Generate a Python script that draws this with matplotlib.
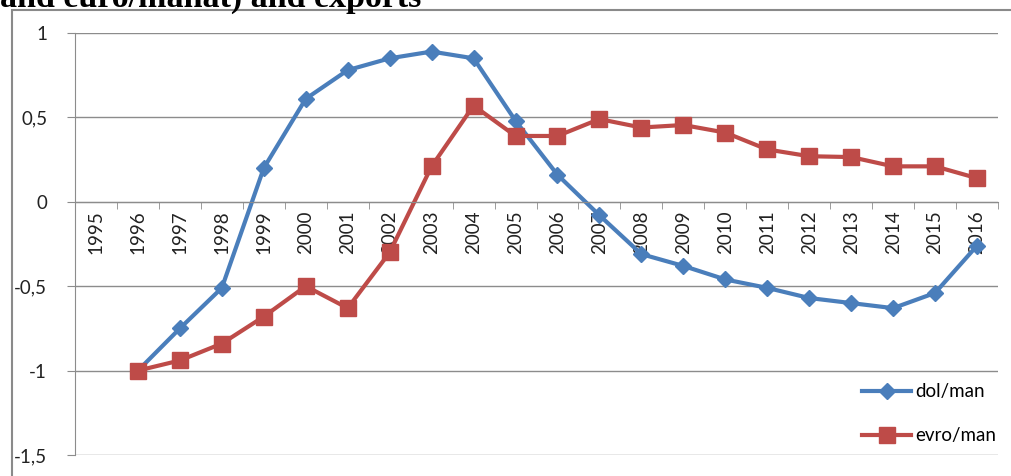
import numpy as np
import matplotlib.pyplot as plt
from matplotlib.ticker import FuncFormatter
from matplotlib.patches import Rectangle

years = [str(y) for y in range(1995, 2017)]
dol_man = [np.nan, -1.0, -0.75, -0.51, 0.20, 0.61, 0.78, 0.85, 0.89, 0.85, 0.48,
           0.16, -0.08, -0.31, -0.38, -0.46, -0.51, -0.57, -0.60, -0.63, -0.54, -0.26]
evro_man = [np.nan, -1.0, -0.94, -0.84, -0.68, -0.50, -0.63, -0.30, 0.21, 0.57, 0.39,
            0.39, 0.49, 0.44, 0.455, 0.41, 0.31, 0.27, 0.265, 0.21, 0.21, 0.14]
yticks = [-1.5, -1, -0.5, 0, 0.5, 1]

plt.rcParams['font.family'] = ['Lato', 'DejaVu Sans']

W, H = 1011, 476
fig = plt.figure(figsize=(W / 100, H / 100), dpi=100)
ax = fig.add_axes([75 / W, 1 - 455 / H, (998 - 75) / W, (455 - 33) / H])

# outer chart frame
fig.patches.append(Rectangle((12 / W, -0.1), 1.2, 1 - 10 / H + 0.1, transform=fig.transFigure,
                             fill=False, edgecolor='#8a8a8a', linewidth=1.5))

x = np.arange(len(years))
ax.plot(x, dol_man, color='#4a7ebb', linewidth=3, marker='D', markersize=8, label='dol/man')
ax.plot(x, evro_man, color='#be4b48', linewidth=3, marker='s', markersize=11, label='evro/man')

ax.set_xlim(-0.5, len(years) - 0.5)
ax.set_ylim(-1.5, 1)
ax.set_yticks(yticks)
ax.yaxis.set_major_formatter(FuncFormatter(lambda v, p: ('%g' % v).replace('.', ',')))
ax.yaxis.grid(True, color='#8c8c8c', linewidth=1)
ax.set_axisbelow(True)

ax.set_xticks(x)
ax.set_xticklabels(years)
ax.set_xticks(np.arange(-0.5, len(years)), minor=True)
ax.tick_params(axis='x', which='major', length=0, pad=6, labelcolor='#222222',
               labelrotation=90, labelsize=13.5)
ax.tick_params(axis='x', which='minor', length=5, color='#8c8c8c')
ax.tick_params(axis='y', length=6, color='#8c8c8c', labelsize=13.5, labelcolor='#222222', pad=14)

ax.spines['bottom'].set_position(('data', 0))
ax.spines['bottom'].set_color('#8c8c8c')
ax.spines['left'].set_color('#8c8c8c')
ax.spines['top'].set_visible(False)
ax.spines['right'].set_visible(False)

ax.legend(loc='lower right', frameon=False, fontsize=13.5, handlelength=2.6,
          labelspacing=1.45, handletextpad=0.2, bbox_to_anchor=(1.016, -0.015))

fig.text(0.0, 1 - 7 / H, 'and euro/manat) and exports', family='Liberation Serif',
         fontweight='bold', fontsize=24.5, va='baseline', ha='left')

fig.savefig('out.png', dpi=100)
